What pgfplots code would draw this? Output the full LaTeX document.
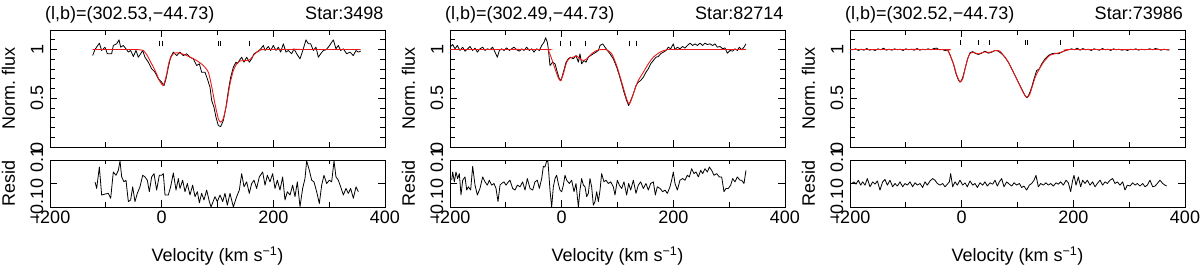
\documentclass[border=0pt]{standalone}
\usepackage{fontspec}
\setmainfont{Liberation Sans}
\usepackage{pgfplots}
\pgfplotsset{compat=1.18}
\newcommand\fs{\fontsize{18}{21}\selectfont}
\definecolor{modred}{rgb}{0.92,0.1,0.1}
\pgfplotsset{
  base/.style={scale only axis, width=335pt, xmin=-200, xmax=400,
    xtick={-200,0,200,400}, minor xtick={-100,100,300},
    tick align=inside, major tick length=7pt, minor tick length=4.5pt,
    tick style={black, line width=0.7pt},
    axis line style={line width=0.9pt},
    /pgf/number format/assume math mode=true,
    tick label style={font=\fs, inner sep=0pt},
    yticklabel style={rotate=90, anchor=south},
    yticklabel shift=6.5pt,
    xticklabel style={anchor=north}, xticklabel shift=4pt,
    label style={font=\fs, inner sep=0pt},
    ylabel style={at={(axis description cs:-0.1045,0.5)}, anchor=base},
    clip=false},
  fluxax/.style={base, height=117pt, ymin=0, ymax=1.2,
    ytick={0,0.5,1}, yticklabels={0,0.5,1},
    minor ytick={0.1,0.2,0.3,0.4,0.6,0.7,0.8,0.9,1.1},
    minor tick length=5pt,
    xticklabels={,,,}, ylabel={Norm.\ flux}},
  residax/.style={base, height=47pt, ymin=-0.1, ymax=0.1,
    ytick={-0.1,0,0.1}, yticklabels={−0.1,0,0.1},
    xticklabels={−200,0,200,400}, ylabel={Resid}},
  spec/.style={black, line width=0.8pt, line join=round},
  model/.style={modred, line width=0.9pt, smooth, tension=0.4},
  comp/.style={black, only marks, mark=|, mark size=2.5pt, mark options={line width=0.8pt}}
}
\begin{document}
\begin{tikzpicture}
\path[use as bounding box] (0,0) rectangle (1200pt,265pt);
% ===== Panel 1 =====
\begin{axis}[fluxax, at={(50pt,118pt)}, anchor=south west]
\addplot[spec] coordinates {
(-123.6,0.938)(-119.4,1.000)(-111.6,1.065)(-107.5,0.990)(-101.5,1.024)(-97.3,0.956)(-89.6,0.956)(-86.6,1.041)(-80.6,1.058)(-76.4,1.099)(-73.4,1.024)(-68.7,1.041)(-63.9,1.007)(-59.7,0.973)(-55.5,0.990)(-50.7,0.928)(-46.0,0.990)(-41.8,0.921)(-37.6,0.956)(-34.0,0.990)(-29.9,0.921)(-23.9,0.870)(-17.9,0.802)(-11.9,0.767)(-6.0,0.699)(0,0.665)(4.2,0.630)(7.8,0.699)(11.9,0.819)(16.1,0.921)(20.9,0.973)(26.9,0.938)(32.8,0.973)(38.8,0.938)(44.8,0.956)(50.7,0.921)(56.7,0.904)(62.7,0.836)(67.5,0.853)(71.6,0.767)(77.6,0.767)(81.8,0.699)(86.6,0.613)(89.6,0.476)(93.7,0.408)(97.3,0.305)(101.5,0.220)(105.7,0.209)(110.4,0.271)(115.2,0.408)(119.4,0.579)(123.6,0.716)(128.4,0.819)(133.1,0.870)(135.5,0.853)(139.1,0.887)(143.3,0.921)(147.5,0.870)(152.2,0.921)(157.0,0.870)(161.2,0.904)(165.4,0.956)(170.1,0.973)(176.1,0.997)(182.1,1.041)(185.1,0.990)(191.0,1.031)(195.2,0.990)(200.0,1.041)(204.8,0.990)(209.0,1.024)(213.1,0.973)(217.9,1.058)(222.7,0.973)(226.9,0.990)(232.8,0.956)(237.0,1.007)(241.8,0.956)(247.8,0.904)(253.7,1.007)(258.5,1.099)(262.7,1.058)(266.9,1.058)(271.6,0.990)(276.4,1.024)(280.6,0.921)(284.8,0.956)(289.6,0.990)(294.3,0.997)(298.5,1.024)(302.7,1.058)(307.5,1.099)(312.2,1.007)(316.4,1.041)(320.6,0.990)(325.4,1.007)(331.3,0.956)(337.3,0.973)(343.3,0.938)(348.1,0.990)(352.2,0.973)(356.4,0.983)};
\addplot[model] coordinates {
(-123.6,1.0)(-50,1.0)(-40,0.997)(-33,0.99)(-27,0.95)(-21,0.887)(-15,0.82)(-9,0.75)(-4,0.68)(0,0.645)(2,0.632)(5,0.66)(9,0.75)(12,0.84)(14.9,0.90)(20.9,0.956)(29.9,0.966)(44.8,0.938)(62.7,0.887)(74.6,0.836)(83.6,0.767)(89.6,0.62)(95.5,0.442)(101.5,0.29)(105.7,0.255)(110.4,0.29)(116.4,0.442)(122.4,0.647)(128.4,0.784)(134.3,0.853)(140.3,0.882)(152.2,0.887)(158,0.895)(163,0.93)(168,0.962)(176.1,0.990)(188,1.0)(356.4,1.0)};
\addplot[comp] coordinates {(-4,1.065)(1,1.065)(101,1.065)(106,1.065)(158,1.065)};
\end{axis}
\begin{axis}[residax, at={(50pt,58pt)}, anchor=south west]
\addplot[spec] coordinates {
(-119.4,0.007)(-116.4,-0.021)(-111.6,0.070)(-107.5,-0.049)(-101.5,-0.045)(-95.5,-0.042)(-91.3,-0.063)(-86.6,0.049)(-81.8,0.035)(-77.6,0.056)(-74.6,0.096)(-71.6,0.028)(-67.5,0.007)(-63.9,0.014)(-59.7,-0.077)(-55.5,-0.070)(-51.9,-0.014)(-47.8,-0.077)(-43.6,-0.042)(-38.8,-0.014)(-34.0,0.035)(-29.9,0.028)(-25.7,0.014)(-22.1,-0.035)(-17.9,0.028)(-13.7,0.042)(-9.0,-0.028)(-4.2,0.035)(0,0.035)(3.0,0.042)(6.0,-0.049)(11.9,-0.049)(16.1,-0.014)(20.9,0.045)(25.7,-0.028)(29.9,0.021)(32.8,-0.021)(37.6,0.014)(41.8,-0.035)(46.0,0)(50.7,-0.049)(55.5,-0.007)(59.7,-0.056)(63.9,-0.035)(67.5,-0.082)(71.6,-0.042)(75.8,-0.070)(80.6,-0.028)(85.4,-0.077)(88.4,-0.100)(95.5,-0.056)(99.7,-0.077)(104.5,-0.049)(109.3,-0.077)(113.4,-0.042)(117.6,-0.092)(122.4,-0.042)(128.4,-0.100)(134.3,-0.056)(139.1,-0.028)(143.3,0.042)(147.5,-0.014)(152.2,0.007)(157.0,-0.042)(161.2,0)(165.4,0.014)(170.1,-0.021)(174.9,0.028)(180.9,0.049)(185.1,-0.007)(189.3,0.035)(194.0,0.007)(198.8,0.042)(203.0,-0.021)(207.2,0.014)(211.9,-0.028)(216.7,0.028)(220.9,-0.070)(225.1,-0.035)(229.9,-0.049)(234.6,-0.007)(238.8,-0.056)(243.0,0.007)(247.8,-0.099)(252.5,-0.021)(256.7,0.021)(259.7,0.096)(264.5,0.056)(268.7,0.014)(272.8,0.007)(277.6,-0.035)(282.4,-0.085)(286.6,-0.007)(290.7,0.035)(295.5,0)(300.3,0.014)(304.5,0.007)(308.7,0.096)(312.2,0.028)(316.4,0.014)(320.6,-0.014)(325.4,-0.049)(330.1,-0.021)(334.3,-0.042)(338.5,-0.021)(343.3,-0.063)(348.1,-0.014)(352.2,-0.035)};
\end{axis}
% ===== Panel 2 =====
\begin{axis}[fluxax, at={(450pt,118pt)}, anchor=south west]
\addplot[spec] coordinates {
(-200.0,1.024)(-195.2,1.051)(-191.0,1.007)(-186.9,1.041)(-182.1,0.990)(-177.3,1.024)(-173.1,0.983)(-168.4,1.007)(-164.2,1.031)(-159.4,0.990)(-155.2,1.014)(-151.0,0.973)(-146.3,1.007)(-141.5,1.024)(-137.3,0.990)(-133.1,1.007)(-128.4,0.997)(-123.6,1.024)(-119.4,0.973)(-115.2,0.921)(-111.6,0.990)(-107.5,1.007)(-103.3,0.990)(-98.5,1.017)(-93.7,0.990)(-89.6,1.007)(-85.4,1.024)(-80.6,0.997)(-75.8,0.983)(-71.6,1.007)(-67.5,0.990)(-62.7,1.024)(-57.9,0.990)(-53.7,1.007)(-49.6,0.973)(-44.8,1.007)(-40.0,0.990)(-35.8,1.041)(-31.6,1.075)(-28.7,1.120)(-25.7,1.075)(-23.9,1.007)(-20.9,0.836)(-16.1,0.870)(-11.9,0.853)(-7.8,0.767)(-4.2,0.699)(-1.2,0.682)(3.0,0.767)(7.8,0.870)(11.9,0.904)(16.1,0.921)(20.9,0.904)(25.7,0.938)(29.9,0.870)(32.8,0.956)(35.8,0.853)(40.0,0.887)(43.6,0.870)(47.8,0.921)(51.9,0.938)(56.7,0.956)(61.5,0.973)(65.7,0.990)(68.7,1.041)(73.4,1.058)(77.6,1.024)(81.8,0.990)(86.6,0.956)(92.5,0.904)(98.5,0.819)(103.3,0.733)(107.5,0.648)(111.6,0.562)(116.4,0.476)(120.0,0.425)(123.6,0.476)(128.4,0.545)(133.1,0.630)(137.3,0.665)(141.5,0.682)(146.3,0.716)(151.0,0.767)(155.2,0.802)(159.4,0.853)(164.2,0.887)(169.0,0.921)(173.1,0.928)(177.3,0.956)(182.1,0.973)(186.9,0.990)(191.0,1.024)(195.2,1.007)(200.0,1.058)(203.0,0.997)(207.2,1.024)(211.9,1.007)(216.7,1.031)(220.9,1.014)(225.1,1.041)(229.9,1.065)(234.6,1.041)(238.8,1.058)(243.0,1.041)(247.8,1.065)(252.5,1.041)(256.7,1.065)(260.9,1.051)(265.7,1.058)(270.4,1.041)(274.6,1.058)(278.8,1.024)(283.6,1.031)(288.4,1.007)(292.5,1.017)(296.7,0.962)(301.5,0.990)(306.3,0.983)(310.4,1.007)(314.6,0.990)(318.2,1.024)(322.4,0.997)(326.6,1.024)(330.1,1.058)};
\addplot[model] coordinates {
(-200,1)(-30,1.0)(-23.9,0.99)(-17.9,0.904)(-11.9,0.802)(-6.0,0.709)(-1.8,0.680)(3.0,0.750)(9.0,0.870)(14.9,0.914)(20.9,0.921)(26.9,0.935)(32.8,0.904)(38.8,0.887)(44.8,0.904)(53.7,0.956)(62.7,0.990)(71.6,1.0)(80.6,0.997)(89.6,0.956)(98.5,0.836)(107.5,0.665)(116.4,0.493)(120.8,0.44)(125.4,0.493)(131.3,0.596)(137.3,0.682)(146.3,0.767)(155.2,0.853)(164.2,0.921)(176.1,0.973)(188.1,0.997)(200.0,1.0)(330.1,1.0)};
\addplot[comp] coordinates {(-3,1.065)(15,1.065)(43,1.065)(122,1.065)(133,1.065)};
\end{axis}
\begin{axis}[residax, at={(450pt,58pt)}, anchor=south west]
\addplot[spec] coordinates {
(-197.0,0.014)(-195.2,0.049)(-192.2,0.007)(-189.3,0.049)(-186.3,0.021)(-183.3,0.042)(-180.3,-0.049)(-177.3,0.014)(-173.1,0.028)(-170.1,-0.028)(-167.2,-0.014)(-163.0,-0.028)(-159.4,0.073)(-155.2,-0.007)(-151.0,-0.049)(-146.3,-0.021)(-141.5,0.028)(-137.3,0.007)(-133.1,-0.007)(-129.6,0.014)(-125.4,-0.007)(-121.2,0)(-117.6,-0.021)(-114.0,-0.077)(-110.4,-0.007)(-107.5,0)(-103.3,0.007)(-99.7,-0.007)(-95.5,0.007)(-92.5,0.014)(-87.8,-0.021)(-83.6,-0.028)(-79.4,-0.007)(-74.6,-0.014)(-69.9,0.007)(-65.7,-0.028)(-61.5,0.021)(-56.7,-0.021)(-51.9,-0.028)(-47.8,0.007)(-43.6,0.014)(-40.0,-0.021)(-35.8,0.021)(-32.8,0.073)(-29.9,0.070)(-26.9,0.096)(-24.5,0.092)(-20.9,-0.028)(-17.9,-0.100)(-14.9,-0.014)(-11.9,0.021)(-9.0,0.035)(-6.0,0)(-3.0,-0.028)(0,-0.035)(3.0,-0.007)(6.0,0.035)(9.0,0.014)(13.7,0)(17.9,0.014)(22.1,-0.035)(25.7,0)(29.9,-0.100)(32.8,-0.028)(35.8,0.021)(38.8,-0.007)(41.8,-0.014)(44.8,-0.056)(47.8,-0.042)(50.7,0.021)(53.7,-0.014)(56.7,-0.092)(59.7,-0.077)(62.7,-0.035)(65.7,-0.077)(68.7,-0.028)(71.6,0.042)(75.8,0.007)(79.4,0.014)(83.6,0)(87.8,0.007)(92.5,-0.014)(95.5,-0.049)(99.7,0.014)(103.3,-0.007)(107.5,-0.021)(111.6,0.007)(116.4,-0.049)(120.0,0)(123.6,-0.028)(128.4,0.014)(133.1,-0.042)(137.3,-0.007)(141.5,0.007)(146.3,-0.021)(151.0,0)(155.2,-0.028)(159.4,0)(164.2,0.007)(167.8,-0.049)(171.3,-0.014)(176.1,-0.021)(180.9,-0.035)(185.1,-0.028)(189.3,-0.042)(194.0,-0.014)(197.0,0.014)(200.0,0.049)(203.0,0)(207.2,-0.028)(211.9,0.014)(216.7,0.021)(220.9,0.014)(225.1,0.035)(228.7,0.028)(232.8,0.063)(237.0,0.042)(240.6,0.049)(244.8,0.028)(249.0,0.056)(252.5,0.042)(256.7,0.063)(260.9,0.049)(264.5,0.070)(268.7,0.056)(272.8,0.035)(277.6,0.042)(282.4,0.028)(286.6,0.028)(290.7,-0.035)(294.3,-0.021)(298.5,-0.021)(302.7,-0.007)(306.3,0.021)(310.4,0.007)(314.6,0.028)(319.4,0.014)(322.4,0.014)(326.6,0)(330.1,0.056)};
\end{axis}
% ===== Panel 3 =====
\begin{axis}[fluxax, at={(850pt,118pt)}, anchor=south west]
\addplot[spec] coordinates {
(-200,1.000)(-195,0.997)(-190,1.007)(-185,0.990)(-180,1.003)(-175,0.993)(-170,1.010)(-165,0.993)(-160,1.000)(-155,0.990)(-150,1.007)(-145,0.997)(-140,1.014)(-135,0.993)(-130,1.003)(-125,0.993)(-120,1.007)(-115,0.997)(-110,1.003)(-105,0.990)(-100,1.007)(-95,0.997)(-90,1.003)(-85,0.993)(-80,1.010)(-75,0.993)(-70,1.003)(-65,0.997)(-60,1.007)(-55,0.997)(-50,1.010)(-45,1.014)(-40,0.997)(-35,1.000)(-30,0.990)(-25,0.993)(-21.5,0.956)(-14.9,0.853)(-10.1,0.750)(-6.0,0.689)(-3.0,0.665)(1.2,0.699)(6.0,0.802)(10.7,0.904)(14.9,0.966)(19.7,0.979)(23.9,0.962)(29.9,0.949)(35.8,0.962)(41.8,0.983)(47.8,0.962)(53.7,0.973)(59.7,0.990)(65.7,0.983)(71.6,0.956)(77.6,0.921)(83.6,0.870)(89.6,0.802)(95.5,0.733)(101.5,0.665)(107.5,0.596)(113.4,0.528)(117.0,0.504)(121.2,0.545)(125.4,0.613)(129.6,0.699)(134.3,0.784)(139.1,0.802)(143.3,0.853)(149.3,0.904)(155.2,0.938)(161.2,0.956)(167.2,0.962)(173.1,0.956)(179.1,0.973)(185.1,0.990)(191.0,0.997)(197,1.007)(202,0.997)(207,1.014)(212,0.993)(217,1.010)(222,0.997)(227,1.003)(232,0.990)(237,1.007)(242,1.000)(247,0.993)(252,1.010)(257,0.997)(262,1.003)(267,0.990)(272,1.007)(277,0.997)(282,1.003)(287,0.993)(292,1.000)(297,0.990)(302,1.003)(307,0.997)(312,1.007)(317,0.993)(322,1.003)(327,0.997)(332,1.000)(337,1.007)(342,0.997)(347,1.010)(352,1.003)(357,0.993)(362,1.003)(367,0.997)(372,0.993)};
\addplot[model] coordinates {
(-200,1)(-30,1.0)(-25,0.99)(-21.5,0.95)(-15,0.86)(-9,0.74)(-4,0.675)(-2,0.668)(2,0.70)(6,0.80)(11,0.91)(15,0.96)(20,0.972)(30,0.955)(40,0.975)(50,0.97)(60,0.99)(68,0.985)(75,0.94)(83,0.875)(90,0.80)(100,0.68)(110,0.56)(116,0.51)(118,0.51)(122,0.54)(127,0.63)(132,0.72)(140,0.81)(148,0.88)(158,0.94)(170,0.96)(180,0.975)(190,0.995)(200,1.0)(372,1.0)};
\addplot[comp] coordinates {(-2,1.068)(30,1.068)(50,1.068)(115,1.068)(117.5,1.068)(176,1.068)};
\end{axis}
\begin{axis}[residax, at={(850pt,58pt)}, anchor=south west]
\addplot[spec] coordinates {
(-197.0,0)(-192.8,0.007)(-189.3,-0.003)(-185.1,0.014)(-180.9,-0.007)(-177.3,0.007)(-173.1,-0.007)(-169.0,0.021)(-164.2,-0.014)(-159.4,0.007)(-155.2,-0.003)(-151.0,0.011)(-146.3,-0.028)(-141.5,0.007)(-137.3,0.017)(-133.1,-0.007)(-128.4,0.014)(-123.6,-0.014)(-119.4,0)(-115.2,-0.011)(-110.4,0.007)(-105.7,-0.014)(-101.5,0)(-97.3,-0.007)(-92.5,0.007)(-87.8,-0.014)(-83.6,0.003)(-79.4,-0.007)(-74.6,0)(-69.9,-0.017)(-65.7,0.007)(-61.5,-0.007)(-56.7,0.011)(-51.9,0.021)(-47.8,0.014)(-43.6,0)(-38.8,-0.007)(-34.0,0)(-29.9,-0.014)(-25.7,-0.003)(-22.1,0.007)(-19.7,0.042)(-16.1,-0.014)(-11.9,0.007)(-7.8,-0.007)(-3.0,0.014)(1.8,-0.007)(6.0,0.003)(10.1,-0.014)(14.9,0.011)(19.7,-0.007)(23.9,0)(28.1,-0.017)(32.8,0.003)(37.6,-0.007)(41.8,0.007)(46.0,-0.011)(50.7,0.003)(55.5,-0.003)(59.7,0.014)(63.9,-0.011)(67.5,0.007)(71.6,0.021)(75.8,-0.014)(80.6,0.007)(85.4,-0.003)(89.6,-0.011)(93.7,0.003)(98.5,-0.007)(103.3,0)(107.5,-0.017)(111.6,-0.011)(116.4,-0.028)(121.2,-0.007)(125.4,0)(129.6,0.014)(133.1,0.035)(137.3,-0.014)(141.5,0)(146.3,-0.007)(151.0,0.003)(155.2,-0.007)(159.4,0)(164.2,-0.011)(169.0,0.003)(173.1,-0.003)(177.3,0.007)(182.1,-0.007)(186.9,0.014)(191.0,0.003)(195.2,-0.035)(198.8,0.014)(201.2,0.035)(204.8,-0.007)(209.0,0.028)(213.1,-0.014)(216.7,0.014)(220.9,0)(225.1,0.014)(229.9,-0.007)(234.6,0.007)(238.8,-0.014)(243.0,0)(247.8,0.014)(252.5,-0.007)(256.7,0.007)(260.9,0)(265.7,0.014)(270.4,0.021)(274.6,0)(278.8,0.007)(283.6,-0.007)(288.4,0.007)(292.5,-0.028)(296.7,-0.007)(301.5,-0.011)(306.3,0.003)(310.4,-0.007)(314.6,0)(319.4,-0.011)(324.2,0)(328.4,-0.014)(332.5,-0.007)(337.3,0.014)(342.1,-0.014)(346.3,-0.011)(350.4,0)(355.2,0.014)(360.0,0)(364.2,-0.007)(367.2,-0.011)};
\end{axis}
% ===== titles and x labels =====
\foreach \xl/\xr/\lb/\st in {45/383.5/{(l,b)=(302.53,−44.73)}/{Star:3498},445/783.5/{(l,b)=(302.49,−44.73)}/{Star:82714},845/1183/{(l,b)=(302.52,−44.73)}/{Star:73986}}{
  \node[anchor=base west, font=\fs, inner sep=0pt] at (\xl pt,245.5pt) {\lb};
  \node[anchor=base east, font=\fs, inner sep=0pt] at (\xr pt,245.5pt) {\st};
}
\foreach \xc in {217.5,617.5,1017.5}{
  \node[anchor=base, font=\fs, inner sep=0pt] at (\xc pt,3pt) {Velocity (km s\textsuperscript{−1})};
}
\end{tikzpicture}
\end{document}
